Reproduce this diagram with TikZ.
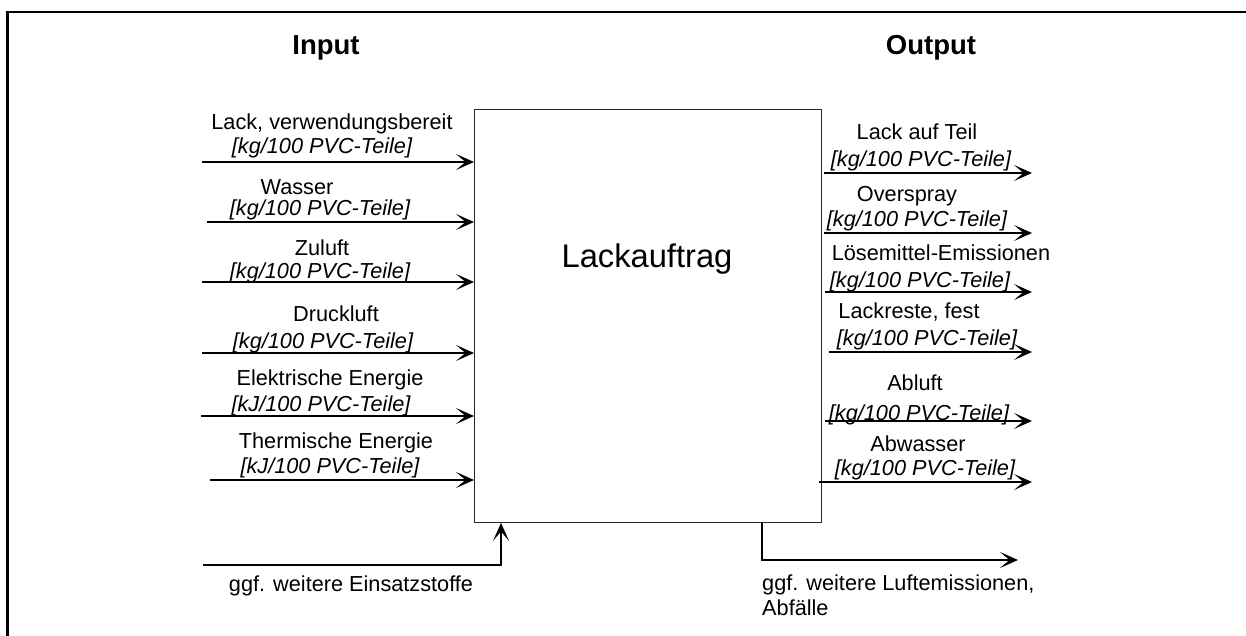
\documentclass[tikz,border=0pt]{standalone}
\usepackage{fontspec}
\setmainfont{Liberation Sans}
\usetikzlibrary{arrows.meta,calc}
\begin{document}
\begin{tikzpicture}[x=1pt,y=-1pt,
  arr/.style={line width=1.3pt,-{Stealth[length=18pt,width=16pt,inset=9.5pt]}},
  lab/.style={inner sep=0pt,anchor=base,font=\fontsize{21.7}{24}\selectfont},
  unit/.style={lab,font=\fontsize{21.7}{24}\selectfont\itshape},
  ttl/.style={inner sep=0pt,anchor=base,font=\fontsize{27.5}{30}\selectfont\bfseries},
  blk/.style={draw=black!85,line width=0.9pt,inner sep=0pt,minimum width=347pt,minimum height=413pt,anchor=north west}]
\useasboundingbox (0,0) rectangle (1246,636);
\draw[line width=2.7pt] (7.3,640) -- (7.3,12) -- (1250,12);

\node[ttl] (tin) at (326,55) {Input};
\node[ttl] (tout) at (931,55) {Output};

\node[blk] (box) at (474,109) {};
\node[inner sep=0pt,anchor=base,font=\fontsize{32.7}{36}\selectfont] (name) at (647,267) {Lackauftrag};

% inputs
\coordinate (i1) at (202,162);
\coordinate (i2) at (207,222);
\coordinate (i3) at (202,282);
\coordinate (i4) at (202,353);
\coordinate (i5) at (201,416);
\coordinate (i6) at (210,480);
\foreach \i in {1,...,6} {\draw[arr] (i\i) -- (i\i -| box.west);}

\node[lab] (l1) at (332,129.3) {Lack, verwendungsbereit};
\node[unit] (u1) at (322,153.5) {[kg/100 PVC-Teile]};
\node[lab] (l2) at (297,195) {Wasser};
\node[unit] (u2) at (320,215.2) {[kg/100 PVC-Teile]};
\node[lab] (l3) at (322,255) {Zuluft};
\node[unit] (u3) at (320,278.5) {[kg/100 PVC-Teile]};
\node[lab] (l4) at (336,321.7) {Druckluft};
\node[unit] (u4) at (323,348) {[kg/100 PVC-Teile]};
\node[lab] (l5) at (330,385) {Elektrische Energie};
\node[unit] (u5) at (321,411) {[kJ/100 PVC-Teile]};
\node[lab] (l6) at (336,448) {Thermische Energie};
\node[unit] (u6) at (330,473) {[kJ/100 PVC-Teile]};

% outputs
\coordinate (o1) at (1032,173);
\coordinate (o2) at (1032,233);
\coordinate (o3) at (1032,292);
\coordinate (o4) at (1032,352);
\coordinate (o5) at (1032,421);
\coordinate (o6) at (1032,482);
\draw[arr] ($(box.east |- o1)+(2,0)$) -- (o1);
\draw[arr] ($(box.east |- o2)+(2,0)$) -- (o2);
\draw[arr] ($(box.east |- o3)+(3,0)$) -- (o3);
\draw[arr] ($(box.east |- o4)+(7,0)$) -- (o4);
\draw[arr] ($(box.east |- o5)+(3,0)$) -- (o5);
\draw[arr] ($(box.east |- o6)+(-3,0)$) -- (o6);

\node[lab] (r1) at (917,140) {Lack auf Teil};
\node[unit] (v1) at (921,167) {[kg/100 PVC-Teile]};
\node[lab] (r2) at (907,201.7) {Overspray};
\node[unit] (v2) at (917,227) {[kg/100 PVC-Teile]};
\node[lab] (r3) at (941,260) {Lösemittel-Emissionen};
\node[unit] (v3) at (920,287) {[kg/100 PVC-Teile]};
\node[lab] (r4) at (909,318) {Lackreste, fest};
\node[unit] (v4) at (927,345) {[kg/100 PVC-Teile]};
\node[lab] (r5) at (915,390) {Abluft};
\node[unit] (v5) at (919,420) {[kg/100 PVC-Teile]};
\node[lab] (r6) at (918,451.7) {Abwasser};
\node[unit] (v6) at (925,475) {[kg/100 PVC-Teile]};

% bottom
\coordinate (bi) at (203,565);
\draw[arr] (bi) -| ($(box.south west)+(27,0)$);
\node[lab] (bl) at (351,591.7) {ggf. weitere Einsatzstoffe};
\coordinate (bo) at (1018,560);
\draw[arr] ($(box.south west)+(288,0)$) |- (bo);
\node[lab,anchor=base west] (br1) at (762,590) {ggf. weitere Luftemissionen,};
\node[lab,anchor=base west] (br2) at (762,615) {Abfälle};
\end{tikzpicture}
\end{document}
